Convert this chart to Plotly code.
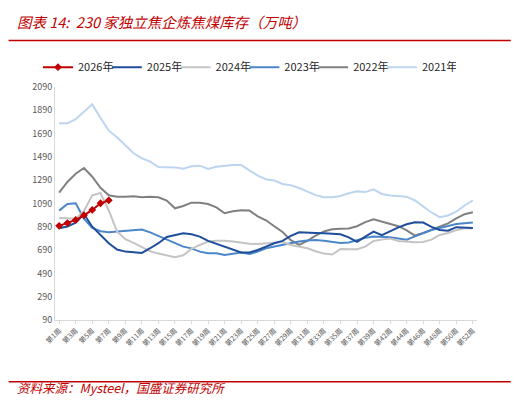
import plotly.graph_objects as go

# weeks on the x axis (week 41 is not in the source data)
weeks = ["第%d周" % w for w in list(range(1, 41)) + list(range(42, 53))]

y2026 = [898, 922, 949, 989, 1035, 1092, 1117]
y2025 = [877, 892, 926, 1000, 891, 820, 749, 695, 677, 671, 666, 706, 749, 803, 820, 834, 826,
         806, 769, 743, 720, 691, 669, 669, 691, 720, 749, 769, 812, 843, 843, 837, 834, 832,
         826, 800, 760, 806, 848, 818, 855, 885, 912, 929, 926, 889, 863, 857, 887, 883, 880]
y2024 = [966, 960, 960, 1025, 1160, 1180, 1030, 849, 783, 752, 713, 680, 660, 645, 628, 645, 700,
         734, 763, 771, 771, 763, 754, 745, 743, 749, 754, 760, 734, 720, 706, 680, 660, 652,
         700, 698, 698, 720, 768, 780, 790, 768, 760, 758, 760, 780, 820, 837, 863, 877, 877]
y2023 = [1029, 1086, 1092, 960, 880, 852, 843, 848, 855, 860, 866, 842, 812, 780, 750, 720, 705,
         677, 663, 663, 649, 657, 669, 657, 677, 706, 720, 740, 750, 763, 772, 777, 770, 763,
         750, 755, 777, 795, 806, 804, 800, 790, 780, 808, 837, 863, 880, 895, 914, 920, 927]
y2022 = [1183, 1275, 1345, 1395, 1320, 1225, 1160, 1149, 1149, 1152, 1144, 1149, 1144, 1115, 1049,
         1069, 1097, 1097, 1086, 1057, 1006, 1023, 1032, 1029, 980, 946, 895, 845, 775, 735, 770,
         815, 850, 868, 873, 876, 895, 930, 955, 935, 910, 895, 860, 815, 837, 863, 889, 920,
         963, 998, 1015]
y2021 = [1778, 1778, 1813, 1873, 1941, 1825, 1715, 1658, 1586, 1521, 1478, 1449, 1403, 1400, 1400,
         1389, 1410, 1415, 1386, 1406, 1413, 1420, 1420, 1378, 1329, 1298, 1287, 1258, 1247, 1223,
         1192, 1162, 1143, 1143, 1155, 1178, 1194, 1188, 1212, 1172, 1158, 1152, 1149, 1116, 1064,
         1013, 973, 987, 1021, 1073, 1116]

series = [
    ("2026年", y2026, "#C00000"),
    ("2025年", y2025, "#1F4E9C"),
    ("2024年", y2024, "#C4C4C4"),
    ("2023年", y2023, "#4A86C8"),
    ("2022年", y2022, "#808080"),
    ("2021年", y2021, "#BDD5EE"),
]

font_cn = "Noto Sans CJK SC"
red = "#C00000"

fig = go.Figure()
for name, vals, col in series:
    if name == "2026年":
        fig.add_trace(go.Scatter(x=weeks[:len(vals)], y=vals, name=name, mode="lines+markers",
                                 line=dict(color=col, width=2),
                                 marker=dict(symbol="diamond", size=6, color=col)))
    else:
        fig.add_trace(go.Scatter(x=weeks[:len(vals)], y=vals, name=name, mode="lines",
                                 line=dict(color=col, width=2)))

# draw older years underneath, 2026 on top
fig.data = tuple(reversed(fig.data))

# page body has an 8px margin, so the figure is 16px smaller than the window
fig.update_layout(
    width=503, height=392,
    margin=dict(l=47, r=34, t=79, b=80),
    paper_bgcolor="white", plot_bgcolor="white",
    font=dict(family=font_cn, size=9, color="#404040"),
    showlegend=True,
    legend=dict(orientation="h", x=0.455, xanchor="center", y=1.085, yanchor="middle",
                font=dict(size=11, color="#262626"), traceorder="reversed",
                entrywidthmode="fraction", entrywidth=0.163, itemwidth=30, tracegroupgap=0),
    annotations=[
        dict(text="图表 14:  230 家独立焦企炼焦煤库存（万吨）", xref="paper", yref="paper",
             x=-0.095, y=1.336, xanchor="left", yanchor="top", showarrow=False,
             font=dict(family=font_cn, size=14.5, color=red, style="italic")),
        dict(text="资料来源：Mysteel，国盛证券研究所", xref="paper", yref="paper",
             x=-0.095, y=-0.337, xanchor="left", yanchor="bottom", showarrow=False,
             font=dict(family=font_cn, size=12.5, color=red, style="italic")),
    ],
    shapes=[
        dict(type="line", xref="paper", yref="paper", x0=-0.11, x1=1.08, y0=1.20, y1=1.20,
             line=dict(color=red, width=1.5)),
        dict(type="line", xref="paper", yref="paper", x0=-0.11, x1=1.08, y0=-0.265, y1=-0.265,
             line=dict(color=red, width=1.5)),
    ],
)

fig.update_xaxes(
    type="category", categoryorder="array", categoryarray=weeks,
    range=[-0.5, len(weeks) - 0.5],
    tickmode="array", tickvals=weeks[::2], ticktext=weeks[::2],
    tickangle=-45, tickfont=dict(size=7, color="#595959"),
    showline=True, linecolor="#D9D9D9", linewidth=1,
    ticks="outside", ticklen=3, tickcolor="#D9D9D9",
    showgrid=False, zeroline=False,
)
fig.update_yaxes(
    range=[90, 2090], tickmode="linear", tick0=90, dtick=200,
    tickfont=dict(size=9, color="#595959"),
    showline=True, linecolor="#D9D9D9", linewidth=1,
    showgrid=False, zeroline=False,
)

fig.write_html("out.html")
